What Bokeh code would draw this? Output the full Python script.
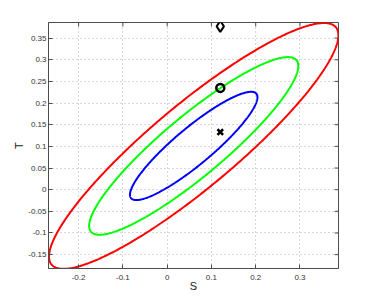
import numpy as np
from bokeh.plotting import figure
from bokeh.models import FixedTicker, Range1d
from bokeh.embed import file_html
from bokeh.resources import INLINE

# --- data ---
center_s = 0.06
center_t = 0.101
sd_s = 0.095
sd_t = 0.0825
rho = 0.9
radii = [1.515, 2.486, 3.44]          # confidence-region radii (68%, 95%, 99.7%)
ellipse_colors = ["#0000ff", "#00ff00", "#ff0000"]

point_s = [0.12, 0.12, 0.12]
point_t = [0.377, 0.235, 0.133]
point_markers = ["diamond", "circle", "x"]

s_ticks = [-0.2, -0.1, 0.0, 0.1, 0.2, 0.3]
t_ticks = [-0.15, -0.1, -0.05, 0.0, 0.05, 0.1, 0.15, 0.2, 0.25, 0.3, 0.35]

FONT = "Liberation Sans"
AX = "#4d4d4d"
S_MIN, S_MAX = -0.268, 0.387
T_MIN, T_MAX = -0.182, 0.386
FW, FH = 290, 246

p = figure(frame_width=FW, frame_height=FH, output_backend="svg", toolbar_location=None,
           x_range=Range1d(S_MIN, S_MAX), y_range=Range1d(T_MIN, T_MAX),
           min_border_left=48, min_border_top=22, min_border_right=20, min_border_bottom=5,
           x_axis_label="S", y_axis_label="T")
p.outline_line_color = AX
p.outline_line_width = 1

for g in (p.xgrid[0], p.ygrid[0]):
    g.grid_line_color = "#b0b0b0"
    g.grid_line_dash = "1 3"
    g.grid_line_width = 1
p.xgrid[0].ticker = FixedTicker(ticks=s_ticks)
p.ygrid[0].ticker = FixedTicker(ticks=t_ticks)

# inward ticks on the top and right edges of the box (MATLAB "box on")
tick_px = 4
dy = tick_px * (T_MAX - T_MIN) / FH
dx = tick_px * (S_MAX - S_MIN) / FW
p.segment(x0=s_ticks, x1=s_ticks, y0=[T_MAX] * len(s_ticks), y1=[T_MAX - dy] * len(s_ticks),
          line_color=AX, line_width=1)
p.segment(x0=[S_MAX] * len(t_ticks), x1=[S_MAX - dx] * len(t_ticks), y0=t_ticks, y1=t_ticks,
          line_color=AX, line_width=1)

theta = np.linspace(0, 2 * np.pi, 400)
for r, col in zip(radii, ellipse_colors):
    xs = center_s + r * sd_s * np.cos(theta)
    ys = center_t + r * sd_t * (rho * np.cos(theta) + np.sqrt(1 - rho ** 2) * np.sin(theta))
    p.line(xs, ys, line_color=col, line_width=2)

p.scatter([point_s[0]], [point_t[0]], marker=point_markers[0], size=11, fill_color=None,
          line_color="black", line_width=2)
p.scatter([point_s[1]], [point_t[1]], marker=point_markers[1], size=8, fill_color=None,
          line_color="black", line_width=2.5)
p.scatter([point_s[2]], [point_t[2]], marker=point_markers[2], size=8,
          line_color="black", line_width=2.5)

def style(ax, ticks):
    ax.ticker = FixedTicker(ticks=ticks)
    ax.major_label_overrides = {t: ("%g" % t) for t in ticks}
    ax.major_tick_in = 4
    ax.major_tick_out = 0
    ax.minor_tick_line_color = None
    ax.axis_line_color = AX
    ax.major_tick_line_color = AX
    ax.major_label_text_font = FONT
    ax.major_label_text_font_size = "8px"
    ax.major_label_text_color = "#333333"
    ax.axis_label_text_font = FONT
    ax.axis_label_text_font_size = "11px"
    ax.axis_label_text_font_style = "normal"
    ax.axis_label_text_color = "#222222"

style(p.xaxis[0], s_ticks)
style(p.yaxis[0], t_ticks)
p.xaxis[0].major_label_standoff = 6
p.xaxis[0].axis_label_standoff = -3
p.yaxis[0].major_label_standoff = 2
p.yaxis[0].axis_label_standoff = 0
p.yaxis[0].major_label_orientation = "horizontal"

open("out.html", "w").write(file_html(p, INLINE))
